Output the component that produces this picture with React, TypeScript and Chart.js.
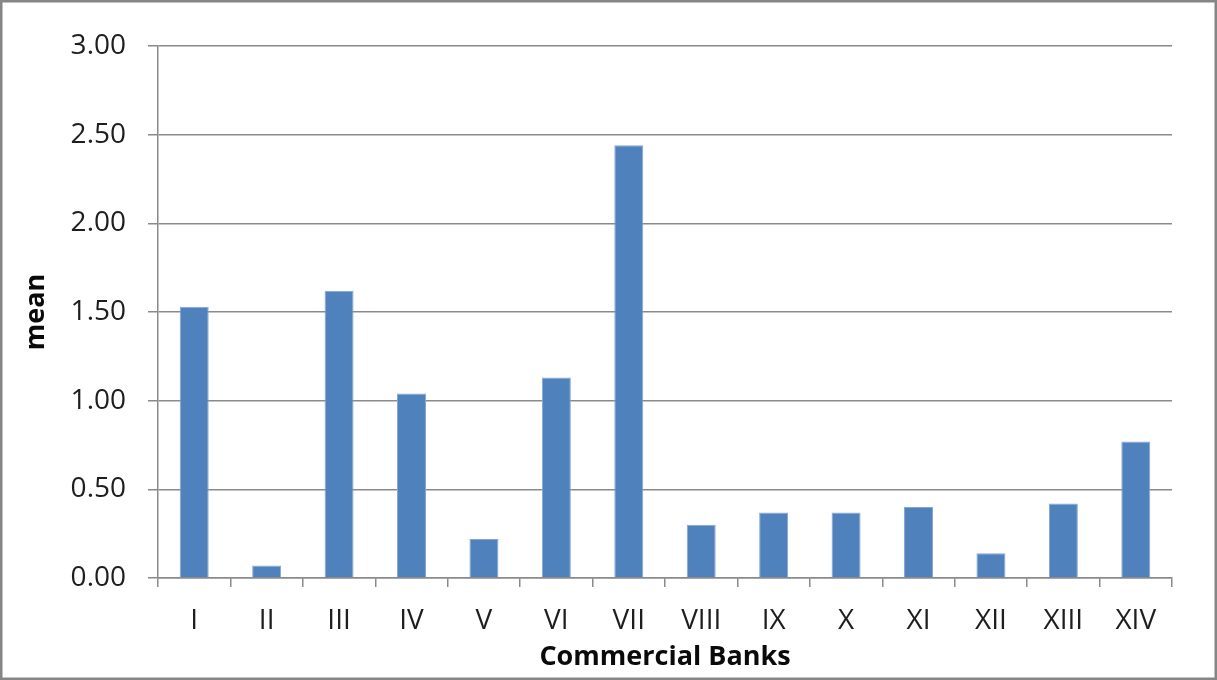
import React, { useEffect, useRef } from "react";
import { Chart, registerables } from "chart.js";

Chart.register(...registerables);

const categories = ["I", "II", "III", "IV", "V", "VI", "VII", "VIII", "IX", "X", "XI", "XII", "XIII", "XIV"];
const meanValues = [1.53, 0.07, 1.62, 1.04, 0.22, 1.13, 2.44, 0.3, 0.37, 0.37, 0.4, 0.14, 0.42, 0.77];
const yTickStep = 0.5;
const yMin = 0;
const yMax = 3;
const xTitle = "Commercial Banks";
const yTitle = "mean";

const W = 1217;
const H = 680;
const FONT = "'Open Sans', 'Liberation Sans', sans-serif";
const GRID = "#8a8a8a";

const framePlugin = {
  id: "frame",
  beforeDraw(chart: any) {
    const ctx = chart.ctx;
    ctx.save();
    ctx.fillStyle = "#ffffff";
    ctx.fillRect(0, 0, chart.width, chart.height);
    ctx.restore();
  },
  afterDraw(chart: any) {
    const ctx = chart.ctx;
    ctx.save();
    ctx.strokeStyle = "#868686";
    ctx.lineWidth = 2.5;
    ctx.strokeRect(1.25, 1.25, chart.width - 2.5, chart.height - 2.5);
    ctx.restore();
  },
};

export default function App() {
  const ref = useRef<HTMLCanvasElement | null>(null);

  useEffect(() => {
    if (!ref.current) return;
    const chart = new Chart(ref.current, {
      type: "bar",
      data: {
        labels: categories,
        datasets: [
          {
            label: yTitle,
            data: meanValues,
            backgroundColor: "#4f81bd",
            borderColor: "#86a6d2",
            borderWidth: 1,
            categoryPercentage: 1,
            barPercentage: 0.4,
          },
        ],
      },
      options: {
        animation: false,
        responsive: false,
        devicePixelRatio: 1,
        layout: { padding: { left: 10, top: 46, right: 45, bottom: 0 } },
        plugins: { legend: { display: false }, tooltip: { enabled: false } },
        scales: {
          x: {
            grid: {
              display: true,
              drawOnChartArea: false,
              drawTicks: true,
              tickLength: 9,
              color: GRID,
              lineWidth: 1.5,
              offset: true,
            },
            border: { display: true, color: GRID, width: 1.5 },
            ticks: {
              color: "#1e1e1e",
              font: { family: FONT, size: 28 },
              padding: 17,
              maxRotation: 0,
              autoSkip: false,
            },
            title: {
              display: true,
              text: xTitle,
              color: "#0a0a0a",
              font: { family: FONT, size: 27, weight: "bold" },
              padding: { top: 0, bottom: 6 },
            },
            afterFit(scale: any) {
              scale.height = H - 578;
            },
          },
          y: {
            min: yMin,
            max: yMax,
            grid: {
              color: GRID,
              lineWidth: 1.5,
              drawTicks: true,
              tickLength: 10,
            },
            border: { display: true, color: GRID, width: 1.5 },
            ticks: {
              stepSize: yTickStep,
              color: "#1e1e1e",
              font: { family: FONT, size: 28 },
              padding: 22,
              callback: (v: any) => Number(v).toFixed(2),
            },
            title: {
              display: true,
              text: yTitle,
              color: "#0a0a0a",
              font: { family: FONT, size: 27, weight: "bold" },
              padding: { top: 10, bottom: 0 },
            },
            afterFit(scale: any) {
              scale.width = 158 - 10;
            },
          },
        },
      },
      plugins: [framePlugin],
    });
    return () => chart.destroy();
  }, []);

  return (
    <div style={{ position: "fixed", left: 0, top: 0, width: W, height: H, background: "#fff" }}>
      <canvas ref={ref} width={W} height={H} style={{ width: W, height: H, display: "block" }} />
    </div>
  );
}
